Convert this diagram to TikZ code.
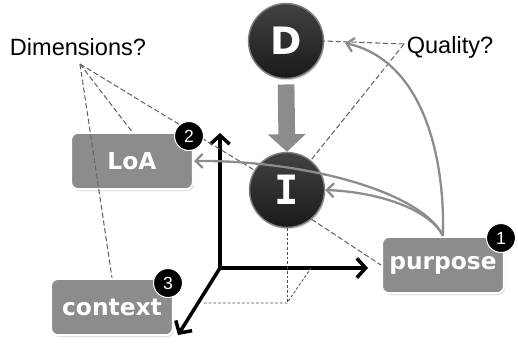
\documentclass[tikz,border=0pt]{standalone}
\usepackage{fontspec}
\setmainfont{Liberation Sans}
\newfontfamily\boxfont{DejaVu Sans}
\newfontfamily\slabfont{DejaVu Sans Mono}
\usetikzlibrary{arrows.meta,shadows}

\tikzset{
  tag/.style={rounded corners=4pt, fill=black!45, draw=white, line width=1.2pt,
    minimum width=2.44cm, minimum height=1.13cm, inner sep=0pt, text=white,
    font=\boxfont\bfseries\fontsize{13.3}{15}\selectfont,
    drop shadow={opacity=0.35, shadow xshift=0.6pt, shadow yshift=-1pt}},
  orb/.style={circle, minimum size=1.5cm, inner sep=0pt, top color=black!74,
    bottom color=black!90, draw=black!50, line width=0.8pt, text=white,
    drop shadow={opacity=0.3, shadow xshift=0.5pt, shadow yshift=-1pt}},
  num/.style={circle, fill=black, draw=white, line width=0.6pt, minimum size=0.58cm,
    inner sep=0pt, text=white, font=\fontsize{10}{12}\selectfont},
  ask/.style={font=\fontsize{13.4}{16}\selectfont},
  hint/.style={draw=black!60, dash pattern=on 3pt off 1.5pt, line width=0.6pt},
  proj/.style={draw=black!70, dash pattern=on 1.5pt off 1.2pt, line width=0.5pt},
  axis/.style={line width=2pt, -{Straight Barb[length=5pt, width=11pt]}},
  link/.style={draw=black!45, line width=1.3pt, -{Straight Barb[length=4pt, width=8pt]}},
}

\begin{document}
\begin{tikzpicture}[x=0.02cm, y=-0.02cm]
  \useasboundingbox (0,0) rectangle (518,343);

  % the three axes
  \coordinate (O) at (220,268);
  \coordinate (Y) at (220,133);
  \coordinate (X) at (368,268);
  \coordinate (Z) at (178,335);
  \draw[axis] (O) -- (Y);
  \draw[axis] (O) -- (X);
  \draw[axis] (O) -- (Z);

  \node[orb] (D) at (286,41) {\boxfont\bfseries\fontsize{21.5}{24}\selectfont D};
  \node[orb] (I) at (287,190) {\slabfont\bfseries\fontsize{23}{26}\selectfont I};

  % projection of I
  \coordinate (A) at (204,303);
  \coordinate (B) at (287,303);
  \coordinate (E) at (311,268);
  \draw[proj] (I.south) -- (B);
  \draw[proj] (A) -- (B) -- (E);

  \node[tag] (L) at (132,161) {LoA};
  \node[tag] (C) at (112,307) {context};
  \node[tag] (P) at (443,265) {purpose};

  \node[ask] (M) at (78,47) {Dimensions?};
  \node[ask] (Q) at (450,47) {Quality?};
  \coordinate (Md) at (80,64);
  \coordinate (Qd) at (404,44);

  \draw[hint] (Md) -- (L.north);
  \draw[hint] (Md) -- (C.north);
  \draw[hint] (Md) -- (I);
  \draw[hint] (Qd) -- (D.east);
  \draw[hint] (Qd) -- (I);
  \draw[hint] (I.-50) -- (P.west);

  % D feeds I
  \draw[black!45, line width=9.5pt, shorten <=3pt, -{Triangle[length=10pt, width=21pt]}]
    (D.south) -- (I.north);

  % purpose drives the rest
  \coordinate (Dg) at (345,43);
  \draw[link] (P.north) .. controls (445,150) and (420,60) .. (Dg);
  \draw[link] (P.north) .. controls (430,210) and (380,192) .. (I.east);
  \draw[link] (P.north) .. controls (420,190) and (300,160) .. (L.east);

  \node[num] (n1) at (501,238) {1};
  \node[num] (n2) at (189,136) {2};
  \node[num] (n3) at (168,283) {3};
\end{tikzpicture}
\end{document}
